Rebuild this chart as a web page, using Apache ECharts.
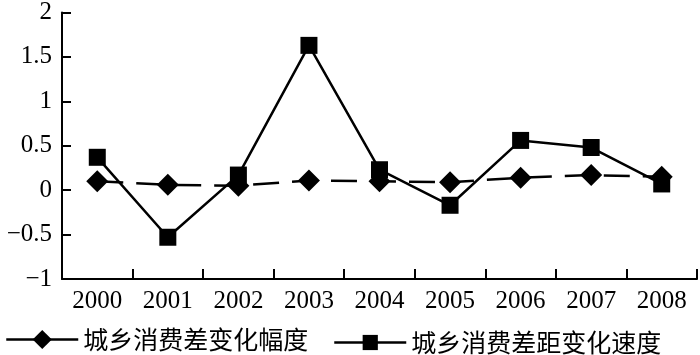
<!DOCTYPE html>
<html><head><meta charset="utf-8">
<script src="https://cdn.jsdelivr.net/npm/echarts@6/dist/echarts.min.js"></script>
<style>html,body{margin:0;padding:0;background:#fff}#c{width:700px;height:355px}</style>
</head><body><div id="c"></div>
<script>
const categories = ['2000','2001','2002','2003','2004','2005','2006','2007','2008'];
const rangeValues = [0.10, 0.06, 0.05, 0.11, 0.10, 0.09, 0.14, 0.17, 0.15];
const speedValues = [0.37, -0.53, 0.17, 1.63, 0.23, -0.17, 0.56, 0.48, 0.07];
const yTicks = {min: -1, max: 2, interval: 0.5};
const seriesNames = ['城乡消费差变化幅度', '城乡消费差距变化速度'];

const chart = echarts.init(document.getElementById('c'), null, {renderer: 'canvas'});
const numFont = {fontFamily: "'Liberation Serif', 'Times New Roman', serif", fontSize: 25, color: '#000'};
const cjkFont = {fontFamily: "'Noto Sans CJK SC', sans-serif", fontSize: 25, color: '#000'};
chart.setOption({
  animation: false,
  backgroundColor: '#fff',
  grid: {left: 62, right: 3, top: 7, bottom: 76},
  xAxis: {
    type: 'category', data: categories, boundaryGap: true,
    axisLine: {show: true, onZero: false, lineStyle: {color: '#000', width: 2}},
    axisTick: {show: true, inside: true, length: 10, lineStyle: {color: '#000', width: 2}},
    axisLabel: Object.assign({margin: 10, interval: 0}, numFont),
    splitLine: {show: false}
  },
  yAxis: {
    type: 'value', min: yTicks.min, max: yTicks.max, interval: yTicks.interval,
    axisLine: {show: true, lineStyle: {color: '#000', width: 2}},
    axisTick: {show: true, inside: true, length: 9, lineStyle: {color: '#000', width: 2}},
    axisLabel: Object.assign({margin: 10, formatter: v => String(v).replace('-', '−')}, numFont),
    splitLine: {show: false}
  },
  legend: [
    {data: [seriesNames[0]], left: 5, top: 339 - 12, padding: 0, itemWidth: 72, itemHeight: 24,
     textStyle: cjkFont, lineStyle: {type: 'solid', width: 2.5}, selectedMode: false},
    {data: [seriesNames[1]], left: 333, top: 339 - 9, padding: 0, itemWidth: 72, itemHeight: 19,
     textStyle: cjkFont, lineStyle: {type: 'solid', width: 2.5}, selectedMode: false}
  ],
  series: [
    {name: seriesNames[0], type: 'line', data: rangeValues, symbol: 'diamond', symbolSize: 22,
     itemStyle: {color: '#000'}, lineStyle: {color: '#000', width: 2.5, type: [26, 13]}, z: 3},
    {name: seriesNames[1], type: 'line', data: speedValues, symbol: 'rect', symbolSize: 17,
     itemStyle: {color: '#000'}, lineStyle: {color: '#000', width: 2.5, type: 'solid'}, z: 4}
  ]
});
</script></body></html>
